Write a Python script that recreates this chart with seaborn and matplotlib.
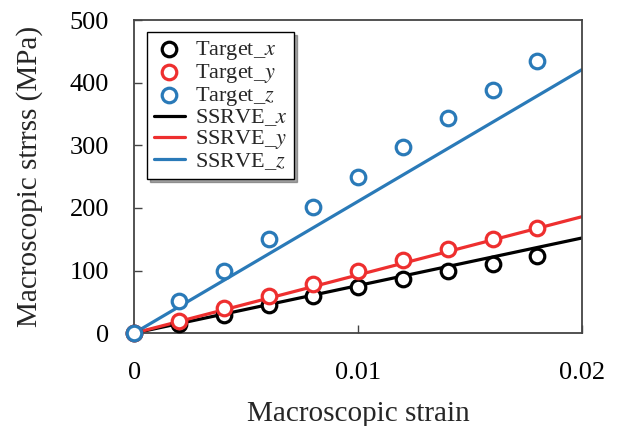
import numpy as np
import pandas as pd
import matplotlib
matplotlib.use("Agg")
import matplotlib.pyplot as plt
import seaborn as sns

strain_pts = [0, 0.002, 0.004, 0.006, 0.008, 0.010, 0.012, 0.014, 0.016, 0.018]
target_x = [0, 14, 29, 45, 59, 73, 86, 100, 111, 123]
target_y = [0, 19, 40, 59, 78, 99, 116, 135, 151, 168]
target_z = [0, 51, 100, 150, 201, 249, 297, 344, 389, 434]

strain_line = [0, 0.02]
ssrve_x = [0, 152]
ssrve_y = [0, 186]
ssrve_z = [0, 421]

colors = {"x": "#000000", "y": "#ee2f2f", "z": "#2a7ab8"}

sns.set_style("ticks")
plt.rcParams["font.family"] = ["Liberation Serif", "DejaVu Serif"]
plt.rcParams["mathtext.fontset"] = "stix"

fig = plt.figure(figsize=(6.18, 4.26), dpi=100)
ax = fig.add_axes([0.217, 0.218, 0.725, 0.735])

for k, vals in zip(["x", "y", "z"], [ssrve_x, ssrve_y, ssrve_z]):
    df = pd.DataFrame({"strain": strain_line, "stress": vals})
    sns.lineplot(data=df, x="strain", y="stress", ax=ax, color=colors[k],
                 linewidth=2.3, label=f"SSRVE_${k}$", zorder=2)

for k, vals in zip(["x", "y", "z"], [target_x, target_y, target_z]):
    df = pd.DataFrame({"strain": strain_pts, "stress": vals})
    sns.scatterplot(data=df, x="strain", y="stress", ax=ax, marker="o",
                    s=110, facecolor="white", edgecolor=colors[k],
                    linewidth=2.3, label=f"Target_${k}$", zorder=3,
                    clip_on=False)

ax.set_xlim(0, 0.02)
ax.set_ylim(0, 500)
ax.set_xticks([0, 0.01, 0.02])
ax.set_xticklabels(["0", "0.01", "0.02"])
ax.set_yticks([0, 100, 200, 300, 400, 500])
ax.tick_params(direction="in", labelsize=19, length=6, width=1, colors="#444444",
               labelcolor="black")
ax.tick_params(axis="y", pad=18)
ax.tick_params(axis="x", pad=21)
for s in ax.spines.values():
    s.set_visible(True)
    s.set_color("#444444")
    s.set_linewidth(1.3)

ax.set_xlabel("Macroscopic strain", fontsize=21, labelpad=12)
ax.set_ylabel("Macroscopic strrss (MPa)", fontsize=21, labelpad=19)

handles, labels = ax.get_legend_handles_labels()
order = [3, 4, 5, 0, 1, 2]
leg = ax.legend([handles[i] for i in order], [labels[i] for i in order],
                loc="upper left", bbox_to_anchor=(0.029, 0.962), fontsize=16,
                frameon=True, fancybox=False, shadow=True, edgecolor="black",
                handlelength=1.4, handletextpad=0.45, labelspacing=0.0,
                borderpad=0.3, borderaxespad=0.0)
leg.get_frame().set_linewidth(1.0)

fig.savefig("out.png", dpi=100)
